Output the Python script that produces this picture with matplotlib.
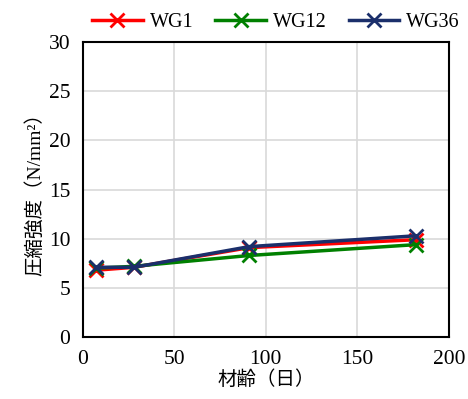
import matplotlib.pyplot as plt

plt.rcParams['font.family'] = ['Liberation Serif', 'Noto Sans CJK JP']

days = [7, 28, 91, 182]
wg1 = [6.8, 7.1, 9.1, 9.9]
wg12 = [7.0, 7.2, 8.3, 9.4]
wg36 = [7.1, 7.1, 9.2, 10.3]

series = [("WG1", wg1, "#ff0000"), ("WG12", wg12, "#008000"), ("WG36", wg36, "#1b2f6b")]

fig = plt.figure(figsize=(4.68, 3.99), dpi=100)
ax = fig.add_axes([0.177, 0.155, 0.782, 0.74])

for name, vals, col in series:
    ax.plot(days, vals, color=col, lw=2.5, marker='x', ms=10, mew=2, label=name)

ax.set_xlim(0, 200)
ax.set_ylim(0, 30)
ax.set_xticks([0, 50, 100, 150, 200])
ax.set_yticks(range(0, 31, 5))
ax.grid(True, color='#d9d9d9', lw=1.2)
ax.set_axisbelow(True)
for s in ax.spines.values():
    s.set_linewidth(1.5)
    s.set_color('black')
ax.tick_params(length=0, labelsize=15.5, pad=9)
ax.set_xlabel("材齢（日）", fontsize=14, labelpad=1)
ax.set_ylabel("圧縮強度（N/mm²）", fontsize=14, labelpad=3)
ax.legend(loc='lower center', bbox_to_anchor=(0.528, 1.0), ncol=3, frameon=False,
          fontsize=14.5, handlelength=2.5, columnspacing=1.1, handletextpad=0.35,
          borderaxespad=0.1)

fig.savefig("out.png", dpi=100)
